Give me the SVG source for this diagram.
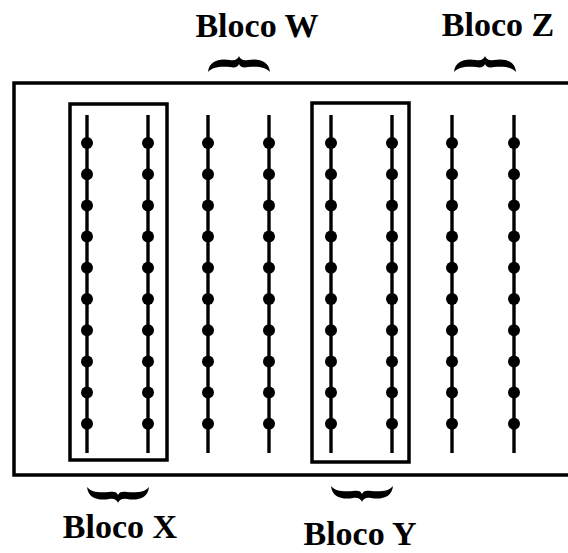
<svg xmlns="http://www.w3.org/2000/svg" xmlns:xlink="http://www.w3.org/1999/xlink" width="568" height="553" viewBox="0 0 568 553">
<style>
.frame{fill:none;stroke:#000;stroke-width:3.5}
.col{stroke:#000;stroke-width:3.4;fill:none}
.dot{fill:#000}
.lbl{font-family:"Liberation Serif","Times New Roman",serif;font-weight:bold;font-size:34px;fill:#000}
.brace{fill:#000}
</style>
<defs>
<path id="brace" class="brace" d="M -31 16 C -30 5, -20 2, -9 4 C -4 5, -1 3, 0 0 C 1 3, 4 5, 9 4 C 20 2, 30 5, 31 16 C 27 11, 19 10, 9 11 C 4 12, 1 11, 0 8 C -1 11, -4 12, -9 11 C -19 10, -27 11, -31 16 Z"/>
<g id="column">
<line class="col" x1="0" y1="115" x2="0" y2="453"/>
<circle class="dot" cx="0" cy="143" r="6"/>
<circle class="dot" cx="0" cy="174.2" r="6"/>
<circle class="dot" cx="0" cy="205.4" r="6"/>
<circle class="dot" cx="0" cy="236.6" r="6"/>
<circle class="dot" cx="0" cy="267.8" r="6"/>
<circle class="dot" cx="0" cy="299" r="6"/>
<circle class="dot" cx="0" cy="330.2" r="6"/>
<circle class="dot" cx="0" cy="361.4" r="6"/>
<circle class="dot" cx="0" cy="392.6" r="6"/>
<circle class="dot" cx="0" cy="423.8" r="6"/>
</g>
</defs>
<rect width="568" height="553" fill="#fff"/>
<g id="field">
<rect class="frame" x="14" y="83" width="560" height="392"/>
</g>
<g id="connectors"></g>
<g id="blocoX">
<rect class="frame" x="70" y="104" width="97" height="356"/>
<use xlink:href="#column" x="87" y="0"/>
<use xlink:href="#column" x="148" y="0"/>
<use xlink:href="#brace" transform="translate(118,503) scale(1,-1)"/>
<text class="lbl" x="120" y="538" text-anchor="middle">Bloco X</text>
</g>
<g id="blocoW">
<use xlink:href="#column" x="208" y="0"/>
<use xlink:href="#column" x="269" y="0"/>
<use xlink:href="#brace" transform="translate(239,56)"/>
<text class="lbl" x="257" y="37" text-anchor="middle">Bloco W</text>
</g>
<g id="blocoY">
<rect class="frame" x="312" y="103" width="97" height="359"/>
<use xlink:href="#column" x="331" y="0"/>
<use xlink:href="#column" x="392" y="0"/>
<use xlink:href="#brace" transform="translate(362,502) scale(1,-1)"/>
<text class="lbl" x="360" y="545" text-anchor="middle">Bloco Y</text>
</g>
<g id="blocoZ">
<use xlink:href="#column" x="452" y="0"/>
<use xlink:href="#column" x="514" y="0"/>
<use xlink:href="#brace" transform="translate(485,56)"/>
<text class="lbl" x="498" y="36" text-anchor="middle">Bloco Z</text>
</g>
</svg>
